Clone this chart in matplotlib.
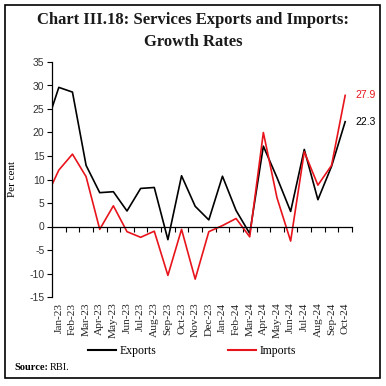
import matplotlib
matplotlib.use("Agg")
import matplotlib.pyplot as plt
from matplotlib.patches import Rectangle
from matplotlib.lines import Line2D

months = ["Dec-22", "Jan-23", "Feb-23", "Mar-23", "Apr-23", "May-23", "Jun-23", "Jul-23",
          "Aug-23", "Sep-23", "Oct-23", "Nov-23", "Dec-23", "Jan-24", "Feb-24",
          "Mar-24", "Apr-24", "May-24", "Jun-24", "Jul-24", "Aug-24", "Sep-24", "Oct-24"]
exports = [20.8, 29.6, 28.6, 13.0, 7.2, 7.4, 3.3, 8.1, 8.3, -2.8, 10.8, 4.3, 1.4,
           10.7, 3.4, -1.5, 17.1, 10.4, 3.2, 16.4, 5.7, 12.8, 22.3]
imports = [5.8, 12.0, 15.4, 10.6, -0.6, 4.4, -1.1, -2.3, -1.0, -10.4, -0.6, -11.2, -1.1,
           0.2, 1.7, -2.2, 20.0, 6.1, -3.1, 15.9, 8.8, 13.0, 27.9]
yticks = [-15, -10, -5, 0, 5, 10, 15, 20, 25, 30, 35]

W = H = 386
fig = plt.figure(figsize=(3.86, 3.86), dpi=100)
fig.patch.set_facecolor("white")

# outer border
fig.add_artist(Rectangle((5 / W, 8 / H), 375 / W, 373 / H, transform=fig.transFigure,
                         fill=False, edgecolor="black", linewidth=1.2))

fig.text(193 / W, 1 - 20 / H, "Chart III.18: Services Exports and Imports:",
         ha="center", va="center", fontsize=12, fontweight="bold",
         family="Liberation Serif", color="#1a1a1a")
fig.text(193 / W, 1 - 42 / H, "Growth Rates",
         ha="center", va="center", fontsize=12, fontweight="bold",
         family="Liberation Serif", color="#1a1a1a")

ax = fig.add_axes([52 / W, 89 / H, 300 / W, 235 / H])
x = list(range(len(months)))
ax.plot(x, exports, color="black", lw=1.2, clip_on=True)
ax.plot(x, imports, color="#e8141b", lw=1.2, clip_on=True)
ax.set_xlim(0.5, len(months) - 0.5)
ax.set_ylim(-15, 35)

for s in ["top", "right"]:
    ax.spines[s].set_visible(False)
ax.spines["left"].set_linewidth(0.9)
ax.spines["bottom"].set_position(("data", 0))
ax.spines["bottom"].set_linewidth(0.9)

ax.set_yticks(yticks)
ax.set_yticklabels([str(v) for v in yticks], fontsize=7.5, family="Liberation Sans",
                   color="#333333")
ax.tick_params(axis="y", direction="out", length=3.5, width=0.8, pad=2)

ax.set_xticks([])
ax.set_xticks([i + 0.5 for i in range(1, len(months))], minor=True)
ax.tick_params(axis="x", which="minor", direction="out", length=3.5, width=0.8,
               labelbottom=False)

sec = ax.secondary_xaxis("bottom")
sec.spines["bottom"].set_visible(False)
sec.set_xticks(x[1:])
sec.set_xticklabels(months[1:], rotation=90, fontsize=8.2, family="Liberation Serif",
                    color="#222222")
sec.tick_params(axis="x", length=0, pad=4)

ax.set_ylabel("Per cent", fontsize=8, family="Liberation Serif", labelpad=9)

ax.text(len(months) - 0.5 + 0.25, imports[-1], f"{imports[-1]:.1f}", color="#e8141b",
        fontsize=7.5, family="Liberation Sans", va="center", ha="left", clip_on=False)
ax.text(len(months) - 0.5 + 0.25, exports[-1], f"{exports[-1]:.1f}", color="black",
        fontsize=7.5, family="Liberation Sans", va="center", ha="left", clip_on=False)

handles = [Line2D([], [], color="black", lw=1.5), Line2D([], [], color="#e8141b", lw=1.5)]
fig.legend(handles, ["Exports", "Imports"], loc="center", bbox_to_anchor=(192 / W, 1 - 351 / H),
           ncol=2, frameon=False, columnspacing=6.0, handlelength=2.4, handletextpad=0.3,
           prop={"family": "Liberation Serif", "size": 8.5})

fig.text(14 / W, 1 - 367 / H, "Source:", fontsize=7.5, fontweight="bold",
         family="Liberation Serif", va="center")
fig.text(50 / W, 1 - 367 / H, "RBI.", fontsize=7.5, family="Liberation Serif", va="center")

fig.savefig("out.png", dpi=100, facecolor="white")
